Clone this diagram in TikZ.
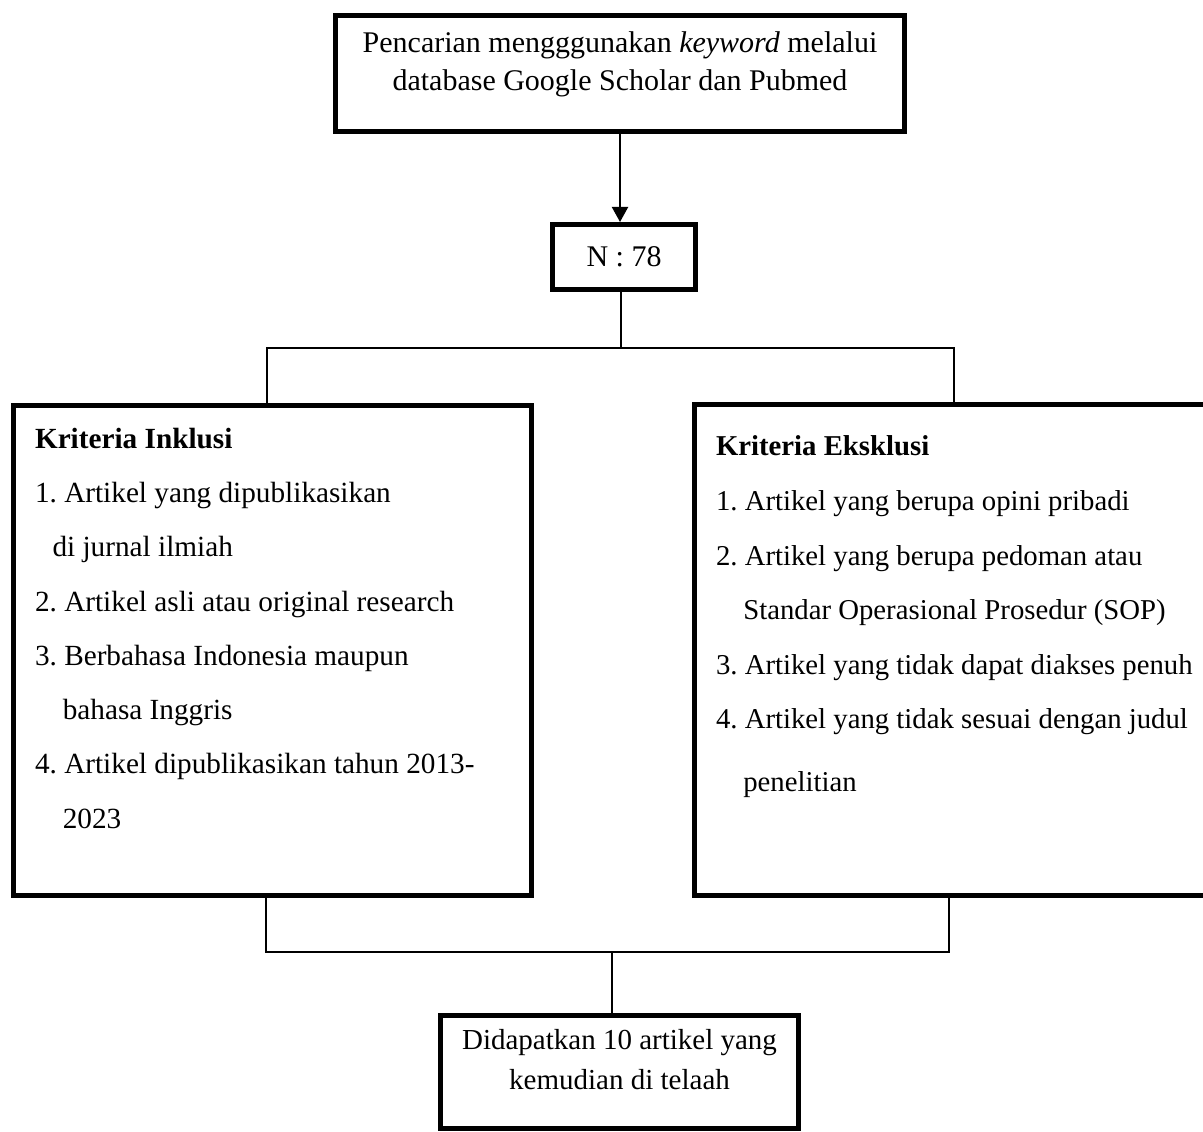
\documentclass[tikz,border=0pt]{standalone}
\usepackage{fontspec}
\setmainfont{Liberation Serif}
\usepackage{tikz}
\usetikzlibrary{calc,arrows.meta}
\frenchspacing

\begin{document}
\begin{tikzpicture}[thick,x=0.4pt,y=-0.4pt,font=\fontsize{12}{14.4}\selectfont]
  \tikzstyle{frame} = [draw,line width=2pt,inner sep=0pt]
  \tikzstyle{list} = [anchor=north west,inner sep=0pt,align=left]
  \tikzstyle{link} = [line width=0.8pt]
  %
  \useasboundingbox (0,0) rectangle (1203,1131);

  % Search box.
  \node[frame,minimum width=227.6pt,minimum height=46.4pt] (search) at (620,73.5) {};
  \node[align=center,font=\fontsize{12}{15.2}\selectfont] (searchtext) at (620,64)
    {Pencarian mengggunakan \textit{keyword} melalui\\database Google Scholar dan Pubmed};

  % Count box.
  \node[frame,minimum width=57.2pt,minimum height=26pt] (count) at (624,257) {N : 78};

  % Criteria boxes.
  \node[frame,minimum width=207.2pt,minimum height=196pt] (incl) at (272.5,650.5) {};
  \node[frame,minimum width=207.2pt,minimum height=196.4pt] (excl) at (953.5,650) {};
  \node[list,font=\fontsize{11.7}{21.7}\selectfont] (incltext) at (34,427)
    {\textbf{Kriteria Inklusi}\\
     1. Artikel yang dipublikasikan\\
     \hspace*{0.6em}di jurnal ilmiah\\
     2. Artikel asli atau original research\\
     3. Berbahasa Indonesia maupun\\
     \hspace*{0.95em}bahasa Inggris\\
     4. Artikel dipublikasikan tahun 2013-\\
     \hspace*{0.95em}2023};
  \node[list,font=\fontsize{11.5}{21.84}\selectfont] (excltext) at (715,435)
    {\textbf{Kriteria Eksklusi}\\
     1. Artikel yang berupa opini pribadi\\
     2. Artikel yang berupa pedoman atau\\
     \hspace*{0.95em}Standar Operasional Prosedur (SOP)\\
     3. Artikel yang tidak dapat diakses penuh\\
     4. Artikel yang tidak sesuai dengan judul\\[3pt]
     \hspace*{0.95em}penelitian};

  % Result box.
  \node[frame,minimum width=143.2pt,minimum height=45.2pt] (result) at (619.5,1072) {};
  \node[align=center,font=\fontsize{11.6}{16}\selectfont] (resulttext) at (619.5,1060)
    {Didapatkan 10 artikel yang\\kemudian di telaah};

  % Draw lines.
  \coordinate (split) at (621,348);
  \coordinate (merge) at (612,952);
  \draw[link,-{Triangle[length=6pt,width=6.4pt]}] (search.south) -- (search.south |- count.north);
  \draw[link] (split |- count.south) -- (split);
  \draw[link] ([xshift=-2.2pt]incl.north) |- (split) -| (excl.north);
  \draw[link] ([xshift=-2.6pt]incl.south) |- (merge) -| ([xshift=-1.8pt]excl.south);
  \draw[link] (merge) -- (merge |- result.north);
\end{tikzpicture}
\end{document}
